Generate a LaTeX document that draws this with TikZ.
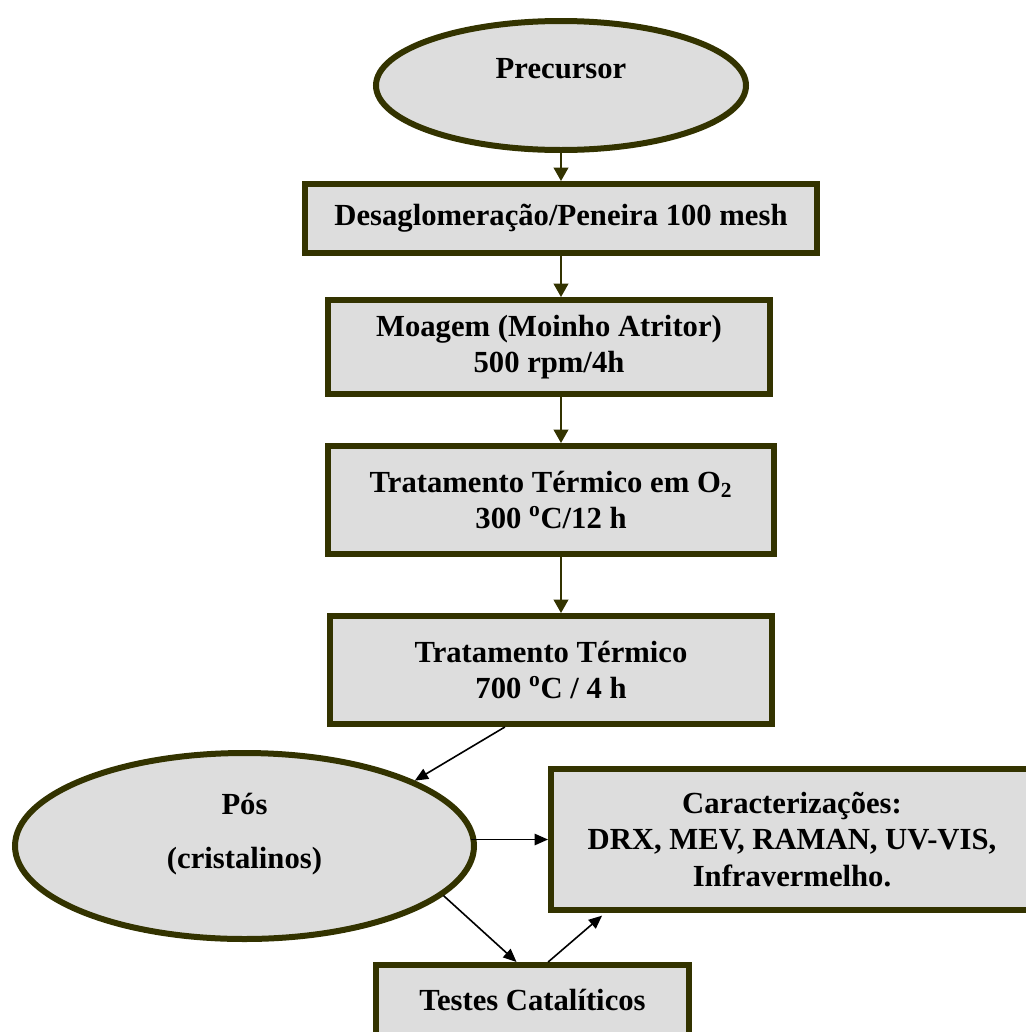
\documentclass[tikz,border=0pt]{standalone}
\usepackage{fontspec}
\setmainfont{Liberation Serif}
\usetikzlibrary{shapes.geometric,arrows.meta,calc}
\definecolor{borderolive}{HTML}{333300}
\definecolor{boxfill}{HTML}{DDDDDD}
\begin{document}
\begin{tikzpicture}[x=0.75pt,y=-0.75pt,
  every node/.style={font=\bfseries\fontsize{23}{26.5}\selectfont},
  stepbox/.style={draw=borderolive, fill=boxfill, line width=4.5pt, rectangle, align=center, inner sep=0pt},
  oval/.style={draw=borderolive, fill=boxfill, line width=4.5pt, ellipse, inner sep=0pt},
  flow/.style={draw=borderolive, line width=1.3pt, -{Triangle[length=10pt,width=11pt]}},
  link/.style={draw=black, line width=1.2pt, -{Triangle[length=10pt,width=8.5pt]}}]
\useasboundingbox (0,0) rectangle (1025,1032);

\node[oval, minimum width=277.5pt, minimum height=96.75pt,
  label={[yshift=13pt]center:Precursor}] (prec) at (561,85.5) {};
\node[stepbox, minimum width=384pt, minimum height=51.75pt] (desag) at (561,218.5)
  {Desaglomeração/Peneira 100 mesh};
\node[stepbox, minimum width=331.5pt, minimum height=70.5pt] (moag) at (549,347)
  {Moagem (Moinho Atritor)\\500 rpm/4h};
\node[stepbox, minimum width=334.5pt, minimum height=81pt] (o2) at (551,500)
  {Tratamento Térmico em O\textsubscript{2}\\300 \textsuperscript{o}C/12 h};
\node[stepbox, minimum width=331.5pt, minimum height=81pt] (trat) at (551,670)
  {Tratamento Térmico\\700 \textsuperscript{o}C / 4 h};
\node[oval, minimum width=344.25pt, minimum height=139.5pt,
  label={[yshift=8.6pt, align=center]center:{Pós\\[14pt](cristalinos)}}] (pos) at (244.5,846) {};
\node[stepbox, minimum width=361.5pt, minimum height=105.75pt] (caract) at (792,839.5)
  {Caracterizações:\\[1.2pt]DRX, MEV, RAMAN, UV-VIS,\\[1.2pt]Infravermelho.};
\node[stepbox, minimum width=234.75pt, minimum height=52.5pt] (testes) at (532.5,1000)
  {Testes Catalíticos};

\draw[flow] (prec.south) -- (desag.north -| prec.south);
\draw[flow] (desag.south -| prec.south) -- (moag.north -| prec.south);
\draw[flow] (moag.south -| prec.south) -- (o2.north -| prec.south);
\draw[flow] (o2.south -| prec.south) -- (trat.north -| prec.south);
\draw[link] ($(trat.south west)!0.397!(trat.south east)$) -- (pos.21);
\draw[link] ($(pos.east |- caract.west)+(-6,0)$) -- (caract.west);
\draw[link] (pos.-14) -- ($(testes.north west)!0.45!(testes.north east)$);
\draw[link, shorten >=3pt] ($(testes.north west)!0.549!(testes.north east)$) -- ($(caract.south west)!0.117!(caract.south east)$);
\end{tikzpicture}
\end{document}
